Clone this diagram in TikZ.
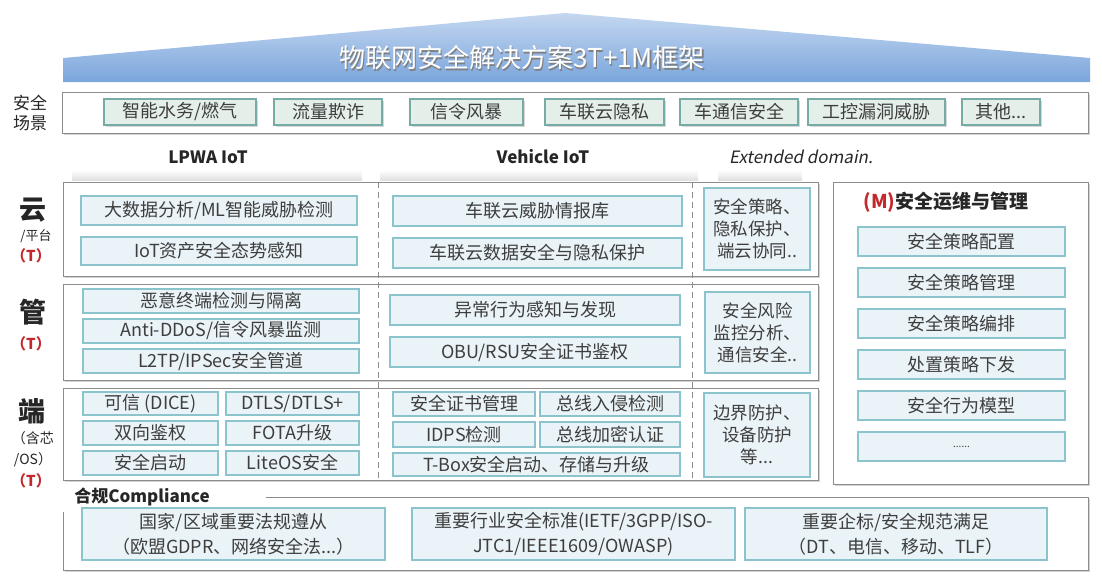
\documentclass[tikz,border=0pt]{standalone}
\usepackage{fontspec}
\setmainfont{Noto Sans CJK SC}
\newfontfamily\slantfont[FakeSlant=0.2]{Noto Sans CJK SC}
\usetikzlibrary{shadows}

\definecolor{rooftop}{RGB}{196,215,240}
\definecolor{roofbot}{RGB}{122,165,220}
\definecolor{itemfill}{RGB}{234,243,247}
\definecolor{itemline}{RGB}{140,196,206}
\definecolor{scenefill}{RGB}{228,239,233}
\definecolor{sceneline}{RGB}{118,172,165}
\definecolor{textgray}{RGB}{62,62,62}
\definecolor{tred}{RGB}{196,40,44}

\begin{document}
\begin{tikzpicture}[x=1pt,y=-1pt,
    layer/.style={draw=black!45,fill=white,line width=0.9pt,inner sep=0pt,
                  drop shadow={opacity=0.35,shadow xshift=2pt,shadow yshift=-2pt}},
    item/.style={draw=itemline,fill=itemfill,line width=1.1pt,text=textgray,
                 font=\fontsize{18}{21}\selectfont,inner sep=0pt,align=center},
    scene/.style={item,draw=sceneline,fill=scenefill,
                  drop shadow={opacity=0.3,shadow xshift=1.5pt,shadow yshift=-1.5pt}},
    ext/.style={item,font=\fontsize{17.5}{22}\selectfont},
    side/.style={text=black!85,inner sep=0pt},
    tmark/.style={text=tred,inner sep=0pt,font=\fontsize{15}{15}\selectfont\bfseries},
    header/.style={text=black!85,inner sep=0pt,font=\fontsize{17}{17}\selectfont\bfseries},
    sepline/.style={draw=black!45,dashed,dash pattern=on 6pt off 4pt,line width=0.9pt}]

  \useasboundingbox (0,0) rectangle (1102,576);

  % roof
  \shade[top color=rooftop,bottom color=roofbot]
    (63,82) -- (63,58) -- (565,13) -- (1090,58) -- (1090,82) -- cycle;
  \node[text=black!50,font=\fontsize{26}{26}\selectfont] at (523.5,59.5) {物联网安全解决方案3T+1M框架};
  \node (title) [text=white,font=\fontsize{26}{26}\selectfont] at (522,58) {物联网安全解决方案3T+1M框架};

  % scenarios
  \node (scenes) [layer,minimum width=1026,minimum height=41] at (575,112.5) {};
  \node (scenelabel) [side,align=center,font=\fontsize{17}{20}\selectfont] at (30,113) {安全\\场景};
  \node (s1) [scene,minimum width=152,minimum height=26] at (180,112) {智能水务/燃气};
  \node (s2) [scene,minimum width=108,minimum height=26] at (328,112) {流量欺诈};
  \node (s3) [scene,minimum width=113,minimum height=26] at (466.5,112) {信令风暴};
  \node (s4) [scene,minimum width=119,minimum height=26] at (604.5,112) {车联云隐私};
  \node (s5) [scene,minimum width=118,minimum height=26] at (739,112) {车通信安全};
  \node (s6) [scene,minimum width=137,minimum height=26] at (876.5,112) {工控漏洞威胁};
  \node (s7) [scene,minimum width=78,minimum height=26] at (1001,112) {其他...};

  % column headers
  \shade[top color=white,bottom color=black!12] (72,170) rectangle (362,180);
  \shade[top color=white,bottom color=black!12] (380,170) rectangle (698,180);
  \shade[top color=white,bottom color=black!12] (718,170) rectangle (802,180);
  \node (lpwa) [header] at (208,157) {LPWA IoT};
  \node (vehicle) [header] at (543,157) {Vehicle IoT};
  \node (extended) [text=black!85,inner sep=0pt,font=\fontsize{17}{17}\slantfont] at (801,157) {Extended domain.};

  % layers
  \node (cloud) [layer,minimum width=755,minimum height=94] at (440.5,229) {};
  \node (pipe) [layer,minimum width=755,minimum height=96] at (440.5,332) {};
  \node (term) [layer,minimum width=755,minimum height=92] at (440.5,434) {};
  \draw[sepline] (378,182) -- (378,480);
  \draw[sepline] (692,182) -- (692,480);

  \node (yun) [side,font=\fontsize{27}{27}\selectfont\bfseries] at (33,210) {云};
  \node (yunsub) [side,font=\fontsize{13}{13}\selectfont] at (36,236) {/平台};
  \node (yunT) [tmark] at (31,256) {（T）};
  \node (guan) [side,font=\fontsize{27}{27}\selectfont\bfseries] at (33,312) {管};
  \node (guanT) [tmark] at (31,344) {（T）};
  \node (duan) [side,font=\fontsize{27}{27}\selectfont\bfseries] at (32,411) {端};
  \node (duansub) [side,align=center,font=\fontsize{14}{21}\selectfont] at (33,449) {（含芯\\/OS）};
  \node (duanT) [tmark] at (31,481) {（T）};

  % cloud
  \node (c1) [item,minimum width=276,minimum height=29] at (219,210.5) {大数据分析/ML智能威胁检测};
  \node (c2) [item,minimum width=276,minimum height=28] at (219,251) {IoT资产安全态势感知};
  \node (c3) [item,minimum width=289,minimum height=30] at (537.5,211) {车联云威胁情报库};
  \node (c4) [item,minimum width=289,minimum height=30] at (537.5,253) {车联云数据安全与隐私保护};
  \node (c5) [ext,minimum width=106,minimum height=82] at (757,229) {安全策略、\\隐私保护、\\端云协同..};

  % pipe
  \node (p1) [item,minimum width=276,minimum height=24] at (221,301) {恶意终端检测与隔离};
  \node (p2) [item,minimum width=276,minimum height=24] at (221,331) {Anti-DDoS/信令风暴监测};
  \node (p3) [item,minimum width=276,minimum height=24] at (221,361) {L2TP/IPSec安全管道};
  \node (p4) [item,minimum width=290,minimum height=30] at (535,310) {异常行为感知与发现};
  \node (p5) [item,minimum width=290,minimum height=30] at (535,352) {OBU/RSU安全证书鉴权};
  \node (p6) [ext,minimum width=105,minimum height=81] at (757.5,332.5) {安全风险\\监控分析、\\通信安全..};

  % terminal
  \node (t1) [item,minimum width=135,minimum height=23] at (150.5,403.5) {可信 (DICE)};
  \node (t2) [item,minimum width=133,minimum height=23] at (292.5,403.5) {DTLS/DTLS+};
  \node (t3) [item,minimum width=135,minimum height=24] at (150.5,433) {双向鉴权};
  \node (t4) [item,minimum width=133,minimum height=24] at (292.5,433) {FOTA升级};
  \node (t5) [item,minimum width=135,minimum height=24] at (150.5,463) {安全启动};
  \node (t6) [item,minimum width=133,minimum height=24] at (292.5,463) {LiteOS安全};
  \node (t7) [item,minimum width=142,minimum height=24] at (464,404) {安全证书管理};
  \node (t8) [item,minimum width=140,minimum height=24] at (610,404) {总线入侵检测};
  \node (t9) [item,minimum width=142,minimum height=25] at (464,434.5) {IDPS检测};
  \node (t10) [item,minimum width=140,minimum height=25] at (610,434.5) {总线加密认证};
  \node (t11) [item,minimum width=287,minimum height=23] at (536.5,464.5) {T-Box安全启动、存储与升级};
  \node (t12) [ext,minimum width=106,minimum height=84] at (757,435) {边界防护、\\设备防护\\等...};

  % management
  \node (mpanel) [layer,minimum width=255,minimum height=302] at (960.5,333) {};
  \node (mtitle) [inner sep=0pt,text=black!85,font=\fontsize{19}{19}\selectfont\bfseries] at (946,202)
    {\textcolor{tred}{(M)}安全运维与管理};
  \node (m1) [item,minimum width=207,minimum height=29] at (961.5,241.5) {安全策略配置};
  \node (m2) [item,minimum width=207,minimum height=29] at (961.5,282.5) {安全策略管理};
  \node (m3) [item,minimum width=207,minimum height=29] at (961.5,323.5) {安全策略编排};
  \node (m4) [item,minimum width=207,minimum height=29] at (961.5,364.5) {处置策略下发};
  \node (m5) [item,minimum width=207,minimum height=29] at (961.5,405.5) {安全行为模型};
  \node (m6) [item,minimum width=207,minimum height=29,font=\fontsize{10}{10}\selectfont] at (961.5,446.5) {......};

  % compliance
  \node (comp) [layer,minimum width=1025,minimum height=73] at (575.5,533.5) {};
  \fill[white] (58,488) rectangle (266,512);
  \node (complabel) [header] at (142,497) {合规Compliance};
  \node (g1) [item,minimum width=303,minimum height=52,font=\fontsize{18}{25}\selectfont] at (233.5,534)
    {国家/区域重要法规遵从\\（欧盟GDPR、网络安全法...）};
  \node (g2) [item,minimum width=323,minimum height=52,font=\fontsize{18}{25}\selectfont] at (573.5,534)
    {重要行业安全标准(IETF/3GPP/ISO-\\JTC1/IEEE1609/OWASP)};
  \node (g3) [item,minimum width=302,minimum height=52,font=\fontsize{18}{25}\selectfont] at (896,534)
    {重要企标/安全规范满足\\（DT、电信、移动、TLF）};
\end{tikzpicture}
\end{document}
